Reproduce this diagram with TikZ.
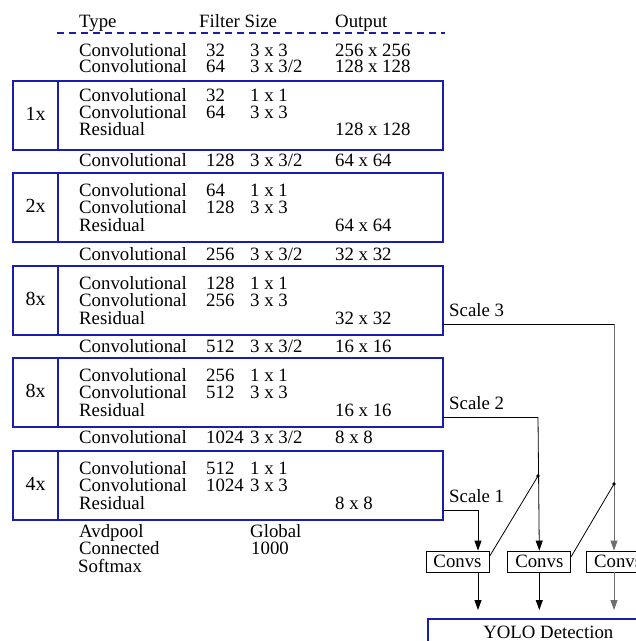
\documentclass[tikz,border=0pt]{standalone}
\usepackage{fontspec}
\setmainfont{Liberation Serif}
\usetikzlibrary{arrows.meta, positioning, calc}
\definecolor{boxblue}{RGB}{25, 30, 175}
\definecolor{routegray}{RGB}{110, 110, 110}

% one row of the layer table: name, baseline, type, filters, size, output
\newcommand\layerrow[6]{%
  \node[txt] (#1a) at (79,#2) {#3};
  \node[txt] (#1b) at (206,#2) {#4};
  \node[txt] (#1c) at (250,#2) {#5};
  \node[txt] (#1d) at (335,#2) {#6};}

\begin{document}
\begin{tikzpicture}[x=1pt, y=-1pt,
    txt/.style={anchor=base west, inner sep=0pt, font=\fontsize{18.8}{20}\selectfont},
    stage/.style={draw=boxblue, line width=1.6pt, anchor=north west, minimum width=430pt,
      minimum height=69pt, inner sep=0pt, outer sep=0pt},
    repeat/.style={anchor=base, inner sep=0pt, font=\fontsize{20}{22}\selectfont},
    convbox/.style={draw, line width=0.8pt, minimum width=63pt, minimum height=21pt,
      inner sep=0pt, font=\fontsize{18.8}{20}\selectfont},
    link/.style={line width=0.8pt},
    flow/.style={link, -{Triangle[length=10pt, width=7pt]}}]
  \useasboundingbox (0,0) rectangle (636,641);
  \clip (0,0) rectangle (636,641);

  % Header
  \node[txt] (hType) at (79,27) {Type};
  \node[txt] (hFilter) at (199,27) {Filter Size};
  \node[txt] (hOut) at (335,27) {Output};
  \draw[boxblue, line width=1.3pt, dash pattern=on 7pt off 5pt] (57,33) -- (445,33);

  % Stem
  \layerrow{r1}{56}{Convolutional}{32}{3 x 3}{256 x 256}
  \layerrow{r2}{72}{Convolutional}{64}{3 x 3/2}{128 x 128}

  % Stage 1
  \node[stage] (box1) at (13,81) {};
  \draw[boxblue, line width=1.6pt] ($(box1.north west)+(45,0)$) -- ($(box1.south west)+(45,0)$);
  \node[repeat] (rep1) at (35.5,120) {1x};
  \layerrow{r3}{101}{Convolutional}{32}{1 x 1}{}
  \layerrow{r4}{118}{Convolutional}{64}{3 x 3}{}
  \layerrow{r5}{135}{Residual}{}{}{128 x 128}
  \layerrow{r6}{166}{Convolutional}{128}{3 x 3/2}{64 x 64}

  % Stage 2
  \node[stage] (box2) at (13,173) {};
  \draw[boxblue, line width=1.6pt] ($(box2.north west)+(45,0)$) -- ($(box2.south west)+(45,0)$);
  \node[repeat] (rep2) at (35.5,212.5) {2x};
  \layerrow{r7}{196}{Convolutional}{64}{1 x 1}{}
  \layerrow{r8}{213.5}{Convolutional}{128}{3 x 3}{}
  \layerrow{r9}{231}{Residual}{}{}{64 x 64}
  \layerrow{r10}{260}{Convolutional}{256}{3 x 3/2}{32 x 32}

  % Stage 3
  \node[stage] (box3) at (13,266) {};
  \draw[boxblue, line width=1.6pt] ($(box3.north west)+(45,0)$) -- ($(box3.south west)+(45,0)$);
  \node[repeat] (rep3) at (35.5,305.5) {8x};
  \layerrow{r11}{289}{Convolutional}{128}{1 x 1}{}
  \layerrow{r12}{306.5}{Convolutional}{256}{3 x 3}{}
  \layerrow{r13}{324}{Residual}{}{}{32 x 32}
  \layerrow{r14}{352}{Convolutional}{512}{3 x 3/2}{16 x 16}

  % Stage 4
  \node[stage] (box4) at (13,358) {};
  \draw[boxblue, line width=1.6pt] ($(box4.north west)+(45,0)$) -- ($(box4.south west)+(45,0)$);
  \node[repeat] (rep4) at (35.5,397.5) {8x};
  \layerrow{r15}{381}{Convolutional}{256}{1 x 1}{}
  \layerrow{r16}{398.5}{Convolutional}{512}{3 x 3}{}
  \layerrow{r17}{416}{Residual}{}{}{16 x 16}
  \layerrow{r18}{443}{Convolutional}{1024}{3 x 3/2}{8 x 8}

  % Stage 5
  \node[stage] (box5) at (13,451) {};
  \draw[boxblue, line width=1.6pt] ($(box5.north west)+(45,0)$) -- ($(box5.south west)+(45,0)$);
  \node[repeat] (rep5) at (35.5,490.5) {4x};
  \layerrow{r19}{474}{Convolutional}{512}{1 x 1}{}
  \layerrow{r20}{491.5}{Convolutional}{1024}{3 x 3}{}
  \layerrow{r21}{509}{Residual}{}{}{8 x 8}

  % Head
  \node[txt] (pool) at (79,537) {Avdpool};
  \node[txt] (poolv) at (250,537) {Global};
  \node[txt] (fc) at (79,554) {Connected};
  \node[txt] (fcv) at (251,554) {1000};
  \node[txt] (soft) at (78,572) {Softmax};

  % Detection branches
  \node[convbox] (convs1) at (457.5,561.5) {Convs};
  \node[convbox, right=18pt of convs1] (convs2) {Convs};
  \node[convbox, right=15pt of convs2] (convs3) {Convs};
  \node[draw=boxblue, line width=1.6pt, anchor=north west, minimum width=241pt,
    inner xsep=0pt, inner ysep=7pt, text height=13pt, text depth=25pt,
    font=\fontsize{18.8}{20}\selectfont] (yolo) at (427,618) {YOLO Detection};

  \coordinate (s3) at (443,324);
  \coordinate (s2) at (443,417);
  \coordinate (s1) at (443,510);
  \coordinate (k3) at (614,324);
  \coordinate (k2) at (538,417);
  \coordinate (k1) at (478,510);
  \coordinate (up2) at (538,476);
  \coordinate (up3) at (614,484);

  \node[txt, anchor=base west] (lab3) at (449,316) {Scale 3};
  \node[txt, anchor=base west] (lab2) at (449,409) {Scale 2};
  \node[txt, anchor=base west] (lab1) at (449,502) {Scale 1};

  \draw[link] (s3) -- (k3);
  \draw[flow, routegray] (k3) -- (convs3.north -| k3);
  \draw[link] (s2) -- (k2);
  \draw[flow] (k2) -- (convs2.north);
  \draw[link] (s1) -- (k1);
  \draw[flow] (k1) -- (convs1.north -| k1);

  % upsampled routes
  \fill (up2) circle (1.8pt);
  \fill (up3) circle (1.8pt);
  \draw[link] (up2) -- ($(convs1.north east)+(0,6)$);
  \draw[link] (up3) -- ($(convs2.north east)+(0,6)$);

  \draw[flow, shorten >=8pt] (convs1.south -| k1) -- (yolo.north -| k1);
  \draw[flow, shorten >=8pt] (convs2.south) -- (yolo.north -| convs2.south);
  \draw[flow, routegray, shorten >=8pt] (convs3.south -| k3) -- (yolo.north -| k3);
\end{tikzpicture}
\end{document}
